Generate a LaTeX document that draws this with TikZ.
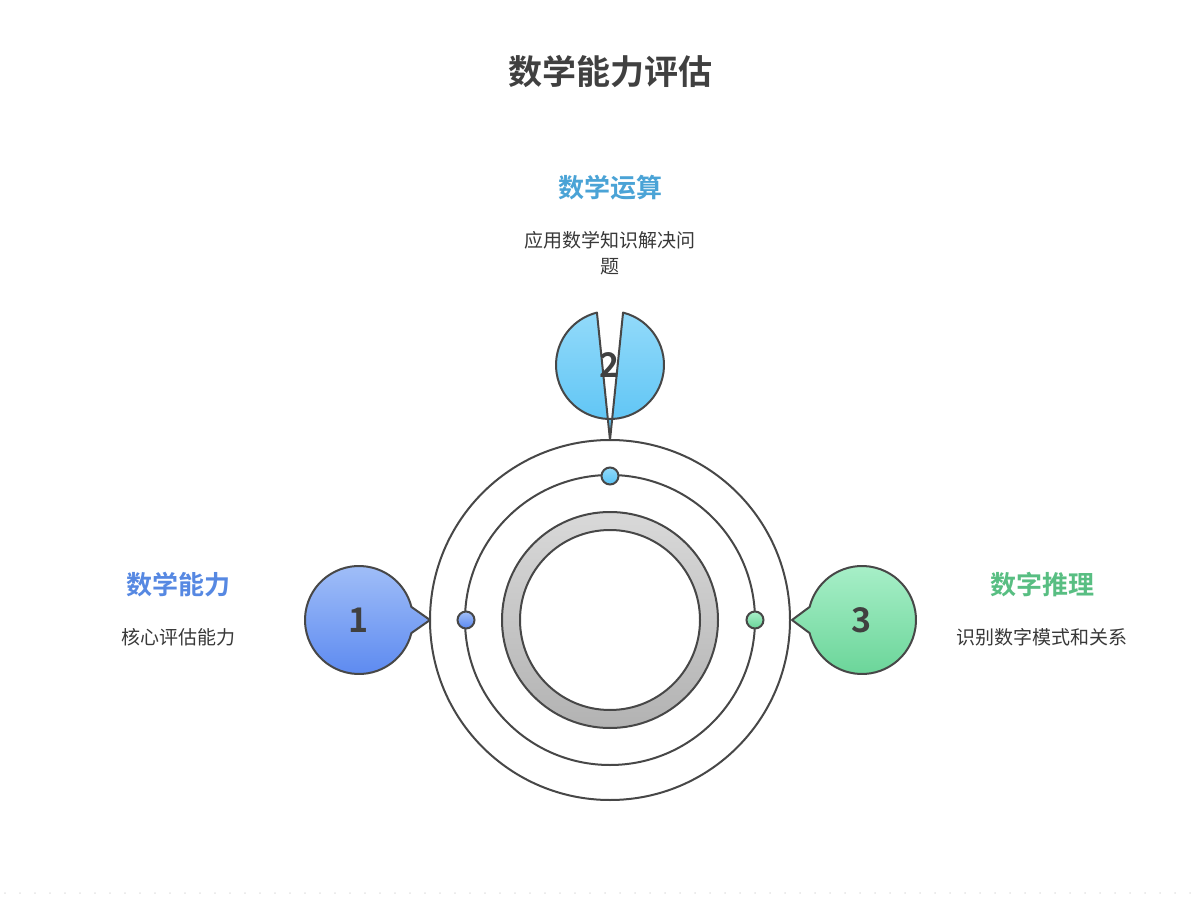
\documentclass[tikz,border=0pt]{standalone}
\usepackage{fontspec}
\setmainfont{Noto Sans CJK SC}
\newfontfamily\cjkb{Noto Sans CJK SC Bold}
\begin{document}
\begin{tikzpicture}[x=1pt,y=-1pt,
  edge/.style={draw=black!72,line width=2pt},
  head/.style={font=\cjkb\fontsize{26}{30}\selectfont},
  desc/.style={font=\fontsize{19}{26}\selectfont,text=black!78,align=center},
  num/.style={font=\cjkb\fontsize{34}{38}\selectfont,text=black!75}]
\useasboundingbox (0,0) rectangle (1200,904);
\definecolor{bA}{HTML}{A3C0F8}\definecolor{bB}{HTML}{5A88F0}
\definecolor{cA}{HTML}{92DAFA}\definecolor{cB}{HTML}{58C2F4}
\definecolor{gA}{HTML}{AAF0CA}\definecolor{gB}{HTML}{68D497}
% dotted base line
\foreach \i in {0,...,79} \fill[black!10] (5+15*\i,893) circle (1);
\coordinate (c) at (610,620);
\draw[edge] (c) circle (180);
\draw[edge] (c) circle (145);
\shade[top color=black!15,bottom color=black!30,even odd rule] (c) circle (108) (c) circle (90);
\draw[edge] (c) circle (108);
\draw[edge] (c) circle (90);
% dots
\node[circle,minimum size=17pt,inner sep=0,top color=cA,bottom color=cB,edge] (d2) at (610,476) {};
\node[circle,minimum size=17pt,inner sep=0,top color=bA,bottom color=bB,edge] (d1) at (466,620) {};
\node[circle,minimum size=17pt,inner sep=0,top color=gA,bottom color=gB,edge] (d3) at (755,620) {};
% bubbles
\coordinate (b1) at (359,620);
\shadedraw[top color=bA,bottom color=bB,edge,line join=round] (b1) ++(14:54) arc[start angle=14,end angle=346,radius=54] -- (430,620) -- cycle;
\node[num] (n1) at (b1) {1};
\coordinate (b2) at (610,365);
\shadedraw[top color=cA,bottom color=cB,edge,line join=round] (b2) ++(-76:54) arc[start angle=-76,end angle=256,radius=54] -- (610,440) -- cycle;
\node[num] (n2) at (b2) {2};
\coordinate (b3) at (862,620);
\shadedraw[top color=gA,bottom color=gB,edge,line join=round] (b3) ++(194:54) arc[start angle=194,end angle=526,radius=54] -- (792,620) -- cycle;
\node[num] (n3) at (b3) {3};
% texts
\node[font=\cjkb\fontsize{34}{40}\selectfont,text=black!75] (t) at (610,72) {数学能力评估};
\node[head,text={rgb,255:red,74;green,163;blue,214}] (h2) at (610,188) {数学运算};
\node[desc] (s2) at (610,253) {应用数学知识解决问\\题};
\node[head,text={rgb,255:red,86;green,136;blue,226}] (h1) at (178,585) {数学能力};
\node[desc] (s1) at (178,637) {核心评估能力};
\node[head,text={rgb,255:red,88;green,190;blue,130}] (h3) at (1042,585) {数字推理};
\node[desc] (s3) at (1042,637) {识别数字模式和关系};
\end{tikzpicture}
\end{document}
